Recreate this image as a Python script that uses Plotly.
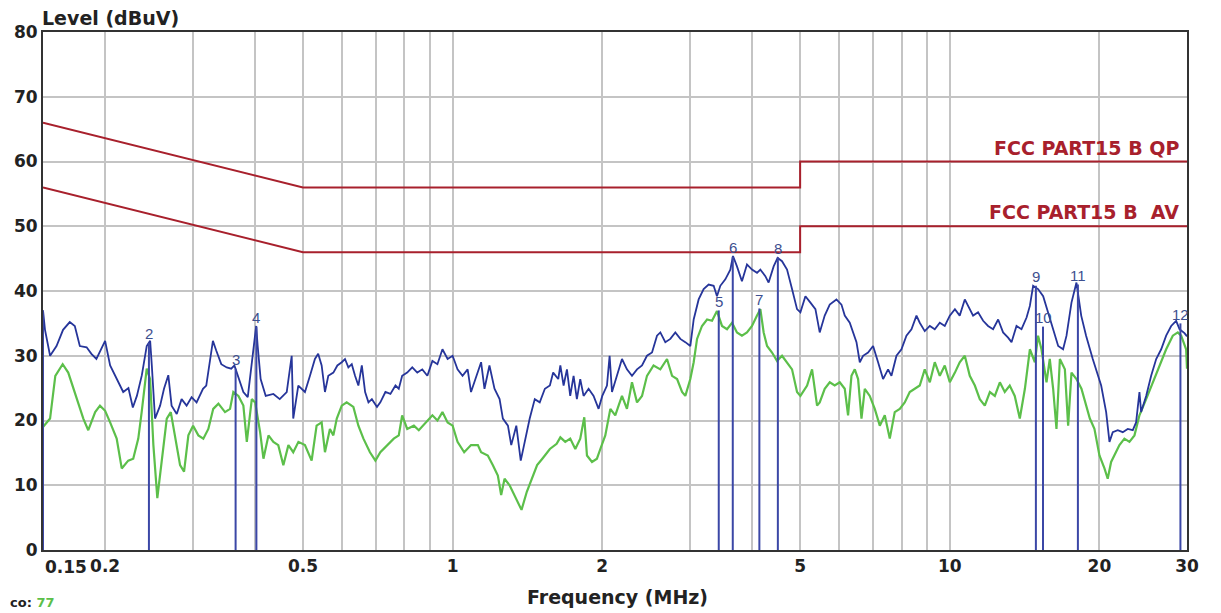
"""
Conducted emission scan (FCC Part 15 B) re-drawn with Plotly.
"""

import math
import plotly.graph_objects as go

# Peak / QP scan (blue), MHz and dBuV
blue_freq = [
    0.150, 0.1514, 0.155, 0.1597, 0.1646, 0.1698, 0.1738, 0.1779, 0.1836, 0.1877,
    0.1921, 0.1966, 0.200, 0.2047, 0.2111, 0.2175, 0.2228, 0.2274, 0.2317, 0.2371,
    0.2425, 0.2464, 0.2483, 0.252, 0.258, 0.2627, 0.268, 0.2721, 0.2787, 0.285,
    0.2917, 0.2985, 0.3055, 0.3147, 0.3195, 0.3252, 0.3295, 0.3346, 0.3425, 0.3513,
    0.3587, 0.364, 0.3697, 0.3794, 0.3872, 0.3963, 0.4026, 0.4054, 0.411, 0.4208,
    0.436, 0.449, 0.4638, 0.4746, 0.478, 0.4893, 0.5046, 0.5165, 0.5285, 0.5365,
    0.5452, 0.5536, 0.5623, 0.5756, 0.5864, 0.5984, 0.6075, 0.617, 0.6268, 0.6364,
    0.6463, 0.6567, 0.6668, 0.6772, 0.688, 0.7046, 0.7155, 0.7325, 0.7497, 0.7674,
    0.7793, 0.7916, 0.8103, 0.8295, 0.849, 0.869, 0.8896, 0.9106, 0.932, 0.954,
    0.977, 1.0, 1.023, 1.047, 1.072, 1.089, 1.115, 1.141, 1.159, 1.186,
    1.214, 1.243, 1.262, 1.292, 1.312, 1.343, 1.371, 1.396, 1.429, 1.463,
    1.497, 1.533, 1.569, 1.593, 1.631, 1.647, 1.672, 1.698, 1.724, 1.751,
    1.778, 1.806, 1.834, 1.877, 1.921, 1.966, 2.0, 2.044, 2.069, 2.092,
    2.141, 2.191, 2.242, 2.295, 2.349, 2.404, 2.46, 2.518, 2.577, 2.617,
    2.678, 2.741, 2.805, 2.871, 2.938, 3.007, 3.054, 3.125, 3.198, 3.273,
    3.35, 3.402, 3.455, 3.536, 3.619, 3.664, 3.732, 3.819, 3.909, 4.001,
    4.095, 4.159, 4.256, 4.321, 4.423, 4.505, 4.598, 4.706, 4.816, 4.929,
    5.006, 5.124, 5.244, 5.367, 5.475, 5.603, 5.735, 5.916, 6.055, 6.148,
    6.292, 6.389, 6.491, 6.591, 6.693, 6.849, 7.01, 7.174, 7.342, 7.514,
    7.632, 7.812, 7.995, 8.181, 8.374, 8.57, 8.701, 8.905, 9.117, 9.328,
    9.548, 9.77, 10.0, 10.24, 10.47, 10.72, 10.89, 11.14, 11.4, 11.67,
    11.94, 12.22, 12.51, 12.8, 13.1, 13.31, 13.62, 13.94, 14.27, 14.49,
    14.71, 15.05, 15.41, 15.77, 16.14, 16.52, 16.9, 17.17, 17.57, 17.98,
    18.38, 18.8, 19.39, 20.16, 20.63, 20.95, 21.27, 21.77, 22.28, 22.8,
    23.34, 23.7, 24.07, 24.26, 24.83, 25.41, 26.01, 26.62, 27.24, 27.88,
    28.53, 28.98, 29.65, 30.0,
]
blue_level = [
    37.0, 34.0, 30.0, 31.5, 34.0, 35.2, 34.6, 31.5, 31.3, 30.3,
    29.5, 31.0, 32.3, 28.5, 26.4, 24.4, 25.0, 22.0, 23.8, 27.0,
    31.5, 32.3, 28.5, 20.3, 22.3, 24.9, 27.0, 22.3, 21.0, 23.3,
    22.3, 23.6, 22.8, 24.9, 25.4, 29.5, 32.3, 30.8, 28.7, 28.2,
    28.0, 28.5, 27.0, 24.4, 23.6, 30.5, 34.6, 31.5, 26.4, 23.8,
    24.1, 23.3, 24.4, 30.0, 20.3, 25.4, 24.4, 26.9, 29.5, 30.3,
    28.5, 24.4, 26.9, 27.4, 28.5, 29.0, 29.5, 28.2, 28.7, 26.9,
    25.4, 28.5, 24.4, 22.8, 23.3, 22.1, 22.8, 24.4, 24.1, 25.4,
    24.9, 26.9, 27.4, 28.2, 27.4, 27.9, 26.9, 29.2, 28.7, 31.0,
    29.5, 30.0, 27.9, 26.9, 27.9, 24.4, 26.9, 29.0, 24.9, 28.5,
    24.9, 23.3, 20.3, 19.2, 16.2, 19.2, 13.8, 16.7, 20.3, 23.3,
    22.8, 24.9, 25.4, 27.4, 26.4, 28.5, 25.4, 27.9, 23.8, 26.9,
    23.3, 26.4, 23.8, 24.9, 23.8, 21.8, 23.8, 25.4, 30.0, 24.4,
    26.9, 29.5, 27.9, 26.9, 27.9, 28.5, 30.0, 30.5, 33.1, 33.6,
    32.1, 32.6, 33.6, 32.6, 32.1, 31.5, 35.6, 38.7, 40.3, 41.0,
    40.8, 39.2, 40.8, 41.8, 43.3, 45.4, 43.8, 41.5, 44.1, 43.3,
    42.8, 43.3, 42.3, 41.3, 43.8, 45.1, 44.6, 43.3, 40.3, 37.2,
    36.7, 39.2, 38.2, 37.2, 33.6, 36.2, 37.9, 38.7, 37.9, 36.2,
    35.1, 33.6, 32.1, 29.0, 30.0, 30.5, 31.5, 29.0, 26.4, 27.9,
    26.9, 30.0, 31.0, 33.1, 34.1, 36.2, 35.1, 33.8, 34.6, 34.1,
    35.1, 34.6, 36.2, 37.2, 36.2, 38.7, 37.7, 36.2, 36.7, 35.4,
    34.6, 34.1, 35.6, 33.6, 32.8, 32.1, 34.6, 34.1, 35.9, 37.7,
    40.8, 40.3, 39.2, 36.7, 34.1, 31.5, 31.0, 33.1, 38.2, 41.3,
    36.2, 33.1, 29.5, 25.4, 21.3, 16.7, 18.2, 18.5, 18.2, 18.7,
    18.5, 19.7, 24.4, 21.3, 23.8, 26.9, 29.5, 31.0, 33.1, 34.6,
    35.4, 34.1, 33.5, 33.0,
]

# Average scan (green)
green_freq = [
    0.150, 0.155, 0.1588, 0.1643, 0.1686, 0.1753, 0.1808, 0.185, 0.191, 0.1953,
    0.200, 0.2047, 0.211, 0.216, 0.2226, 0.2278, 0.2332, 0.2369, 0.2425, 0.2463,
    0.2501, 0.2547, 0.26, 0.2661, 0.2711, 0.2765, 0.283, 0.2883, 0.2941, 0.3006,
    0.308, 0.3152, 0.3226, 0.330, 0.338, 0.3485, 0.3567, 0.3622, 0.3708, 0.3794,
    0.3855, 0.3945, 0.4007, 0.41, 0.4164, 0.4262, 0.436, 0.446, 0.4566, 0.4674,
    0.478, 0.4896, 0.5046, 0.5205, 0.5326, 0.5452, 0.5536, 0.5665, 0.5756, 0.5848,
    0.5984, 0.6122, 0.6315, 0.6463, 0.6616, 0.6819, 0.6994, 0.7155, 0.7383, 0.7614,
    0.7793, 0.7916, 0.8103, 0.8358, 0.855, 0.8827, 0.9106, 0.932, 0.954, 0.977,
    1.0, 1.023, 1.055, 1.089, 1.124, 1.141, 1.177, 1.205, 1.233, 1.252,
    1.272, 1.302, 1.343, 1.376, 1.41, 1.444, 1.479, 1.515, 1.569, 1.619,
    1.647, 1.685, 1.724, 1.765, 1.806, 1.84, 1.863, 1.907, 1.951, 1.982,
    2.028, 2.076, 2.124, 2.157, 2.191, 2.242, 2.295, 2.349, 2.404, 2.46,
    2.536, 2.617, 2.699, 2.763, 2.828, 2.894, 2.938, 3.007, 3.054, 3.102,
    3.174, 3.249, 3.325, 3.402, 3.482, 3.564, 3.648, 3.732, 3.819, 3.909,
    4.001, 4.095, 4.159, 4.223, 4.29, 4.39, 4.493, 4.598, 4.706, 4.816,
    4.929, 5.006, 5.164, 5.284, 5.408, 5.475, 5.603, 5.735, 5.868, 6.007,
    6.148, 6.243, 6.342, 6.44, 6.54, 6.643, 6.745, 6.903, 7.065, 7.231,
    7.4, 7.573, 7.75, 7.931, 8.117, 8.307, 8.502, 8.701, 8.905, 9.117,
    9.328, 9.548, 9.77, 10.0, 10.24, 10.47, 10.72, 10.97, 11.23, 11.49,
    11.76, 12.04, 12.32, 12.61, 12.9, 13.2, 13.51, 13.83, 14.16, 14.49,
    14.83, 15.05, 15.29, 15.65, 15.89, 16.14, 16.39, 16.65, 17.04, 17.3,
    17.57, 17.98, 18.4, 18.84, 19.13, 19.54, 20.0, 20.47, 20.78, 21.11,
    21.44, 21.94, 22.45, 22.98, 23.52, 24.07, 24.83, 25.6, 26.41, 27.24,
    28.09, 28.75, 29.2, 29.88, 30.0,
]
green_level = [
    19.0, 20.3, 26.9, 28.7, 27.4, 23.3, 20.3, 18.5, 21.3, 22.3,
    21.5, 19.7, 17.2, 12.6, 13.8, 14.1, 17.2, 21.3, 28.0, 26.4,
    16.2, 8.0, 13.6, 20.3, 21.3, 17.7, 13.1, 12.1, 17.7, 19.2,
    17.7, 17.2, 18.7, 21.8, 22.6, 21.3, 21.8, 24.4, 23.8, 22.3,
    16.7, 23.3, 22.8, 18.2, 14.1, 17.7, 16.7, 16.2, 13.1, 16.2,
    15.1, 16.7, 16.2, 13.8, 19.2, 19.7, 15.1, 18.7, 17.7, 20.3,
    22.3, 22.8, 22.1, 19.2, 17.2, 15.1, 13.8, 15.1, 16.2, 17.2,
    17.7, 20.8, 18.7, 19.2, 18.5, 19.7, 20.8, 20.0, 21.3, 19.7,
    19.2, 16.7, 15.1, 16.2, 16.2, 15.1, 14.6, 13.1, 11.5, 8.5,
    11.0, 10.0, 8.0, 6.2, 9.0, 11.0, 13.1, 14.1, 15.6, 16.4,
    17.4, 16.7, 17.2, 15.6, 17.2, 20.5, 14.6, 13.6, 14.1, 15.6,
    17.7, 21.8, 20.8, 22.3, 23.8, 21.8, 25.9, 22.8, 23.8, 26.9,
    28.5, 27.9, 29.5, 26.9, 26.4, 24.4, 23.8, 26.4, 29.0, 32.6,
    34.6, 35.6, 35.4, 36.9, 34.6, 34.1, 35.1, 33.6, 33.1, 33.6,
    34.6, 36.2, 37.2, 33.6, 31.5, 30.5, 29.2, 30.0, 29.0, 27.9,
    24.4, 23.8, 25.4, 27.9, 22.3, 22.8, 24.9, 25.9, 25.4, 25.9,
    24.9, 20.8, 26.9, 27.9, 26.4, 20.3, 24.9, 23.8, 21.8, 19.2,
    20.8, 17.2, 21.3, 21.8, 22.8, 24.4, 24.9, 25.4, 27.9, 25.9,
    29.0, 26.9, 28.5, 25.9, 27.4, 29.0, 30.0, 26.9, 25.4, 23.3,
    22.3, 24.4, 23.8, 25.9, 24.4, 25.4, 23.8, 20.3, 24.9, 31.0,
    29.0, 33.1, 31.0, 25.9, 29.5, 24.9, 18.7, 29.5, 27.9, 19.2,
    27.4, 26.4, 24.9, 22.3, 20.3, 18.7, 14.6, 12.6, 11.0, 13.6,
    14.6, 16.2, 17.2, 16.7, 17.7, 20.8, 23.3, 25.9, 28.5, 31.0,
    33.1, 33.6, 33.1, 31.0, 28.0,
]

# FCC Part 15 B limits
qp_freq = [0.15, 0.5, 5.0, 5.0, 30.0]
qp_level = [66, 56, 56, 60, 60]
av_freq = [0.15, 0.5, 5.0, 5.0, 30.0]
av_level = [56, 46, 46, 50, 50]

# Marker readings
marker_freq = [0.15, 0.245, 0.366, 0.403, 3.43, 3.66, 4.14, 4.51, 14.9, 15.4, 18.1, 29.1]
marker_level = [37.0, 32.0, 28.0, 34.5, 37.0, 45.3, 37.3, 45.2, 40.8, 34.5, 41.0, 35.0]
marker_text = ["", "2", "3", "4", "5", "6", "7", "8", "9", "10", "11", "12"]

x_grid = [0.15, 0.2, 0.3, 0.4, 0.5, 0.6, 0.7, 0.8, 0.9, 1, 2, 3, 4, 5, 6, 7, 8, 9, 10, 20, 30]
x_labelled = {0.2: "0.2", 0.5: "0.5", 1: "1", 2: "2", 5: "5", 10: "10", 20: "20", 30: "30"}

BOLD = "DejaVu Sans"
RED = "#a8202c"

fig = go.Figure()

fig.add_trace(go.Scatter(x=qp_freq, y=qp_level, mode="lines",
                         line=dict(color=RED, width=2), hoverinfo="skip"))
fig.add_trace(go.Scatter(x=av_freq, y=av_level, mode="lines",
                         line=dict(color=RED, width=2), hoverinfo="skip"))

fig.add_trace(go.Scatter(x=green_freq, y=green_level, mode="lines",
                         line=dict(color="#5cbf4a", width=2.2)))
fig.add_trace(go.Scatter(x=blue_freq, y=blue_level, mode="lines",
                         line=dict(color="#26359a", width=1.8)))

# vertical marker lines from 0 up to the reading
mx, my = [], []
for f, lv in zip(marker_freq, marker_level):
    mx += [f, f, None]
    my += [0, lv, None]
fig.add_trace(go.Scatter(x=mx, y=my, mode="lines",
                         line=dict(color="#3b47a6", width=2), hoverinfo="skip"))

# annotations on a log axis take log10 positions
for f, lv, t in zip(marker_freq, marker_level, marker_text):
    if t:
        fig.add_annotation(x=math.log10(f), y=lv, xref="x", yref="y", text=t, showarrow=False,
                           yshift=9, font=dict(family="Liberation Sans", size=15, color="#3d4f8f"))

fig.add_annotation(x=math.log10(30), y=60, xref="x", yref="y", text="FCC PART15 B QP",
                   showarrow=False, xanchor="right", yanchor="bottom", xshift=-6, yshift=1,
                   font=dict(family=BOLD, size=19, color=RED, weight="bold"))
fig.add_annotation(x=math.log10(30), y=50, xref="x", yref="y", text="FCC PART15 B  AV",
                   showarrow=False, xanchor="right", yanchor="bottom", xshift=-6, yshift=1,
                   font=dict(family=BOLD, size=19, color=RED, weight="bold"))

# axis titles and odd labels
fig.add_annotation(x=-0.003, y=1.027, xref="paper", yref="paper", text="Level (dBuV)",
                   showarrow=False, xanchor="left", yanchor="middle",
                   font=dict(family=BOLD, size=19, color="#222", weight="bold"))
fig.add_annotation(x=0.5026, y=-0.0907, xref="paper", yref="paper", text="Frequency (MHz)",
                   showarrow=False, xanchor="center", yanchor="middle",
                   font=dict(family=BOLD, size=19, color="#222", weight="bold"))
fig.add_annotation(x=math.log10(0.15), y=0, xref="x", yref="paper", text="0.15",
                   showarrow=False, xanchor="left", yanchor="top", yshift=-5, xshift=0,
                   font=dict(family=BOLD, size=17, color="#222", weight="bold"))
fig.add_annotation(x=-0.0306, y=-0.083, xref="paper", yref="paper",
                   text="co: <span style='color:#5cbf4a'>77</span>",
                   showarrow=False, xanchor="left", yanchor="top",
                   font=dict(family=BOLD, size=13, color="#222", weight="bold"))

fig.update_xaxes(
    type="log", range=[math.log10(0.15), math.log10(30)],
    tickvals=x_grid, ticktext=[x_labelled.get(v, "") for v in x_grid],
    tickfont=dict(family=BOLD, size=17, color="#222", weight="bold"),
    showgrid=True, gridcolor="#c4c4c4", gridwidth=1.5,
    showline=True, linecolor="#333", linewidth=2, mirror=True,
    ticks="", zeroline=False, automargin=False,
)
fig.update_yaxes(
    range=[0, 80], tickvals=list(range(0, 81, 10)),
    tickfont=dict(family=BOLD, size=17, color="#222", weight="bold"),
    showgrid=True, gridcolor="#c4c4c4", gridwidth=1.5,
    showline=True, linecolor="#333", linewidth=2, mirror=True,
    ticks="", zeroline=False, automargin=False,
)

# the page body adds an 8 px offset, so the figure is 8 px smaller than the window
fig.update_layout(
    width=1213, height=605, autosize=False,
    margin=dict(l=35, r=34, t=24, b=63),
    paper_bgcolor="white", plot_bgcolor="white",
    showlegend=False,
)

fig.write_html("out.html")
